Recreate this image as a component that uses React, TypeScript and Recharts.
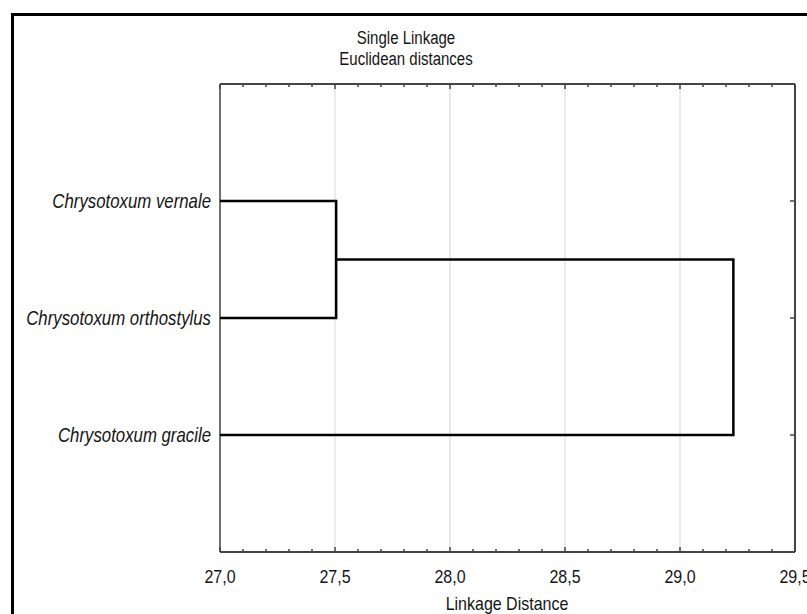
import React from "react";
import {
  ScatterChart,
  Scatter,
  XAxis,
  YAxis,
  ReferenceLine,
} from "recharts";

// ---- data ----
const titleLines = ["Single Linkage", "Euclidean distances"];
const xAxisTitle = "Linkage Distance";
const leafLabels = [
  "Chrysotoxum vernale",
  "Chrysotoxum orthostylus",
  "Chrysotoxum gracile",
];
const leafPositions = [1, 2, 3];
const baseDistance = 27.0;
// merge 1: vernale + orthostylus ; merge 2: (vernale+orthostylus) + gracile
const mergeDistances = [27.505, 29.232];
const xMajorTicks = [27.0, 27.5, 28.0, 28.5, 29.0, 29.5];
const xMinorTicks = [
  27.0, 27.1, 27.2, 27.3, 27.4, 27.5, 27.6, 27.7, 27.8, 27.9, 28.0, 28.1, 28.2,
  28.3, 28.4, 28.5, 28.6, 28.7, 28.8, 28.9, 29.0, 29.1, 29.2, 29.3, 29.4, 29.5,
];
const gridValues = [27.5, 28.0, 28.5, 29.0];

// dendrogram link paths built from the values above
const link1 = [
  { x: baseDistance, y: leafPositions[0] },
  { x: mergeDistances[0], y: leafPositions[0] },
  { x: mergeDistances[0], y: leafPositions[1] },
  { x: baseDistance, y: leafPositions[1] },
];
const midY = (leafPositions[0] + leafPositions[1]) / 2;
const link2 = [
  { x: mergeDistances[0], y: midY },
  { x: mergeDistances[1], y: midY },
  { x: mergeDistances[1], y: leafPositions[2] },
  { x: baseDistance, y: leafPositions[2] },
];

const FONT = "'Liberation Sans', Arial, sans-serif";
const AXIS_COLOR = "#454545";
const TEXT_COLOR = "#151515";
const STRETCH = 1.2;

const isMajor = (v: number) => xMajorTicks.some((m) => Math.abs(m - v) < 1e-6);

const BottomTick = (props: any) => {
  const { x, y, payload } = props;
  const v = payload.value as number;
  const major = isMajor(v);
  return (
    <g>
      <line x1={x} y1={y} x2={x} y2={y - (major ? 5 : 3)} stroke={AXIS_COLOR} strokeWidth={1.5} />
      {major && (
        <g transform={`translate(${x},${y + 24}) scale(1,${STRETCH})`}>
          <text
            x={0}
            y={0}
            textAnchor="middle"
            dominantBaseline="central"
            fontFamily={FONT}
            fontSize={16}
            fill={TEXT_COLOR}
          >
            {v.toFixed(1).replace(".", ",")}
          </text>
        </g>
      )}
    </g>
  );
};

const TopTick = (props: any) => {
  const { x, y, payload } = props;
  const major = isMajor(payload.value);
  return (
    <line x1={x} y1={y} x2={x} y2={y + (major ? 5 : 3)} stroke={AXIS_COLOR} strokeWidth={1.5} />
  );
};

const LeftTick = (props: any) => {
  const { x, y, payload } = props;
  const idx = leafPositions.indexOf(payload.value);
  return (
    <g transform={`translate(${x - 9},${y}) scale(1,${STRETCH})`}>
      <text
        x={0}
        y={0}
        textAnchor="end"
        dominantBaseline="central"
        fontFamily={FONT}
        fontSize={16.8}
        fontStyle="italic"
        fill={TEXT_COLOR}
      >
        {idx >= 0 ? leafLabels[idx] : ""}
      </text>
    </g>
  );
};

const RightTick = (props: any) => {
  const { x, y } = props;
  return <line x1={x} y1={y} x2={x - 5} y2={y} stroke={AXIS_COLOR} strokeWidth={1.5} />;
};

const NoDot = () => <g />;

const htmlText = (
  text: string,
  centerX: number,
  centerY: number,
  size: number
) => (
  <div
    key={text}
    style={{
      position: "absolute",
      left: centerX - 200,
      width: 400,
      top: centerY - 10,
      height: 20,
      lineHeight: "20px",
      textAlign: "center",
      fontFamily: FONT,
      fontSize: size,
      color: TEXT_COLOR,
      transform: `scaleY(${STRETCH})`,
      whiteSpace: "nowrap",
    }}
  >
    {text}
  </div>
);

export default function App() {
  return (
    <div
      style={{
        position: "absolute",
        left: 0,
        top: 0,
        width: 807,
        height: 614,
        overflow: "hidden",
        background: "#fff",
      }}
    >
      <div
        style={{
          position: "absolute",
          left: 11,
          top: 13,
          width: 900,
          height: 700,
          border: "3px solid #000",
        }}
      />
      {titleLines.map((t, i) => htmlText(t, 406, 38 + i * 21, 15))}
      {htmlText(xAxisTitle, 507, 604, 16)}
      <div style={{ position: "absolute", left: 0, top: 0 }}>
        <ScatterChart
          width={807}
          height={614}
          margin={{ top: 64, right: 0, bottom: 0, left: 0 }}
        >
          <XAxis
            xAxisId="bottom"
            type="number"
            dataKey="x"
            domain={[27, 29.5]}
            ticks={xMinorTicks}
            interval={0}
            tickSize={0}
            tickMargin={0}
            tickLine={false}
            tick={BottomTick}
            height={62}
            axisLine={{ stroke: AXIS_COLOR, strokeWidth: 2 }}
            allowDataOverflow
          />
          <XAxis
            xAxisId="top"
            orientation="top"
            type="number"
            dataKey="x"
            domain={[27, 29.5]}
            ticks={xMinorTicks}
            interval={0}
            tickSize={0}
            tickMargin={0}
            tickLine={false}
            tick={TopTick}
            height={20}
            axisLine={{ stroke: AXIS_COLOR, strokeWidth: 2 }}
            allowDataOverflow
          />
          <YAxis
            yAxisId="left"
            type="number"
            dataKey="y"
            domain={[0, 4]}
            reversed
            ticks={leafPositions}
            interval={0}
            tickSize={0}
            tickMargin={0}
            tickLine={false}
            tick={LeftTick}
            width={220}
            axisLine={{ stroke: "#111", strokeWidth: 1.2 }}
            allowDataOverflow
          />
          <YAxis
            yAxisId="right"
            orientation="right"
            type="number"
            dataKey="y"
            domain={[0, 4]}
            reversed
            ticks={leafPositions}
            interval={0}
            tickSize={0}
            tickMargin={0}
            tickLine={false}
            tick={RightTick}
            width={12}
            axisLine={{ stroke: AXIS_COLOR, strokeWidth: 2 }}
            allowDataOverflow
          />
          {gridValues.map((g) => (
            <ReferenceLine
              key={g}
              x={g}
              xAxisId="bottom"
              yAxisId="left"
              stroke="#d6d6d6"
              strokeWidth={1}
            />
          ))}
          <Scatter
            data={link1}
            xAxisId="bottom"
            yAxisId="left"
            line={{ stroke: "#000", strokeWidth: 2.5 }}
            shape={NoDot}
            legendType="none"
            isAnimationActive={false}
          />
          <Scatter
            data={link2}
            xAxisId="top"
            yAxisId="right"
            line={{ stroke: "#000", strokeWidth: 2.5 }}
            shape={NoDot}
            legendType="none"
            isAnimationActive={false}
          />
        </ScatterChart>
      </div>
    </div>
  );
}
